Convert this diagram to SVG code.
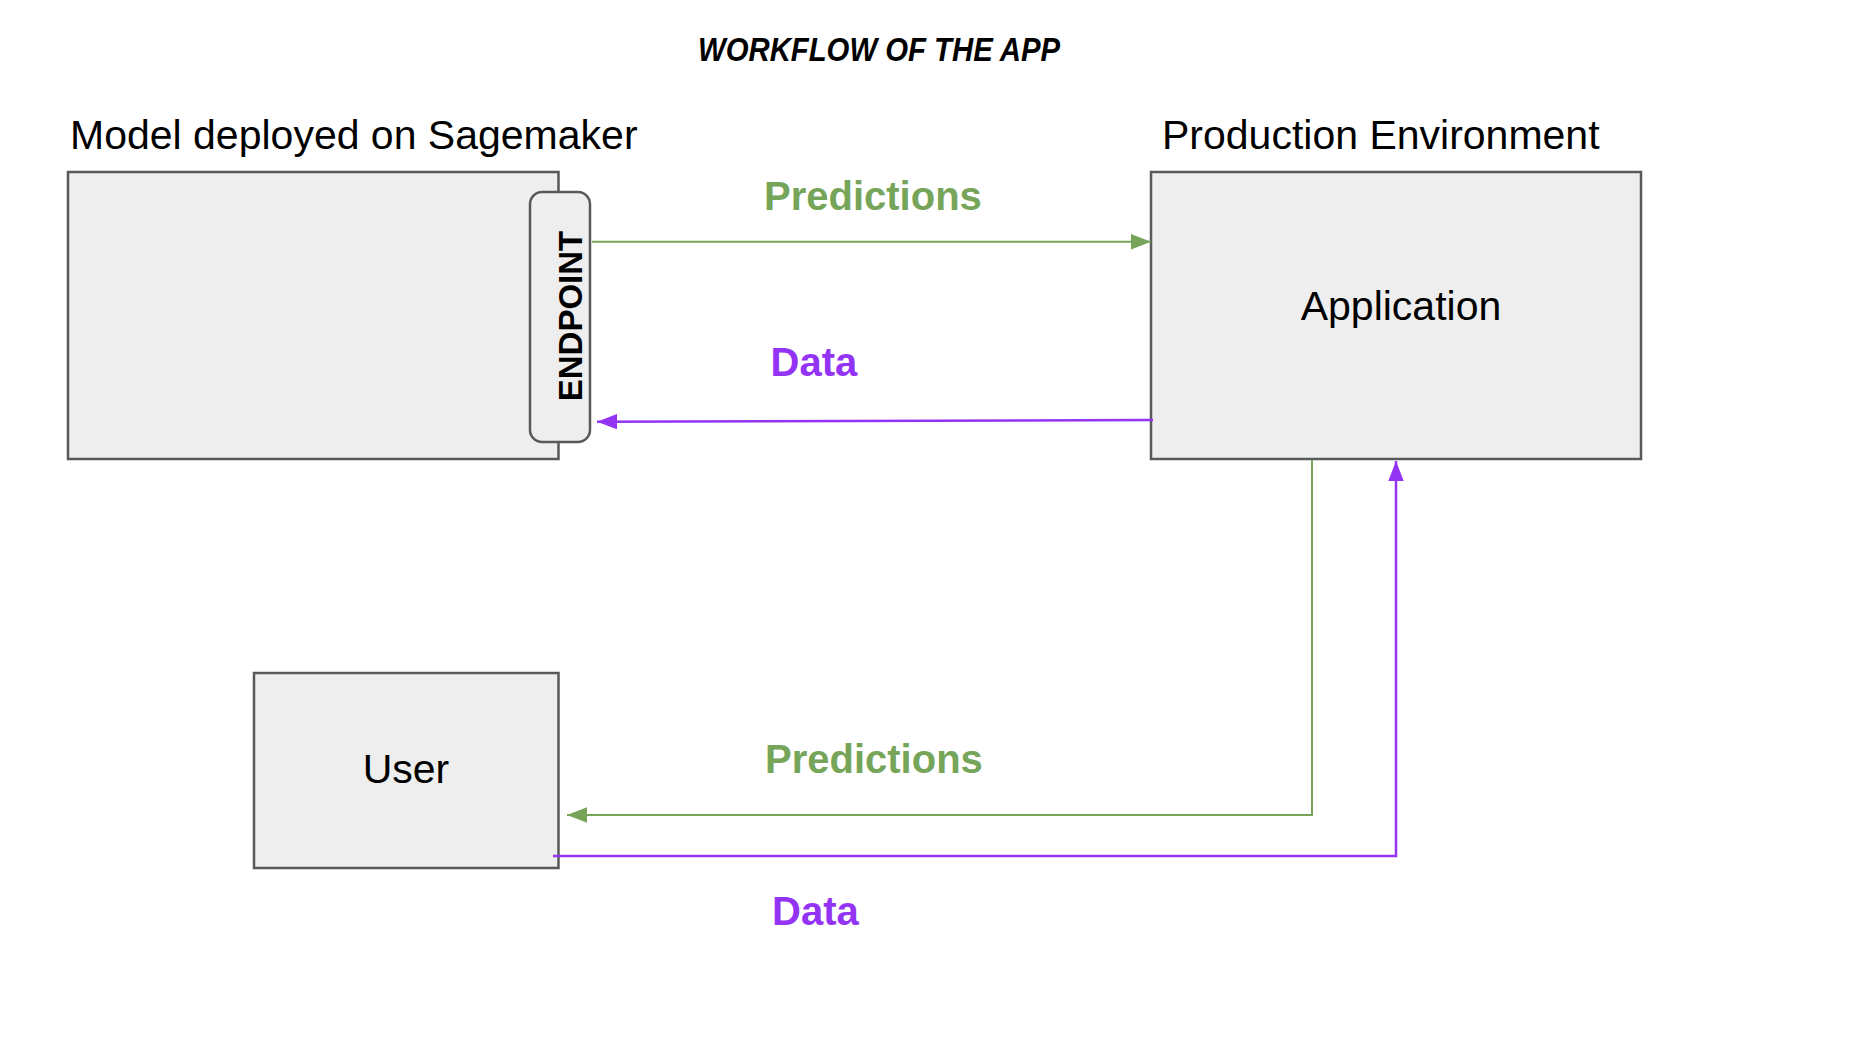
<svg xmlns="http://www.w3.org/2000/svg" width="1854" height="1050" viewBox="0 0 1854 1050">
  <style>
    .box { fill: #eeeeee; stroke: #595959; stroke-width: 2.5; }
    .t { font-family: "Liberation Sans", Arial, sans-serif; font-size: 41px; fill: #000000; }
    .lbl { font-family: "Liberation Sans", Arial, sans-serif; font-size: 40px; font-weight: bold; }
    .g { fill: #76a55a; }
    .p { fill: #9334f5; }
    .lg { fill: none; stroke: #76a55a; stroke-width: 2; }
    .lp { fill: none; stroke: #9334f5; stroke-width: 2.5; }
  </style>
  <defs>
    <marker id="ag" markerUnits="userSpaceOnUse" markerWidth="21" markerHeight="16" refX="20" refY="7.7" orient="auto">
      <path d="M0,0 L20,7.7 L0,15.4 z" fill="#76a55a"/>
    </marker>
    <marker id="ap" markerUnits="userSpaceOnUse" markerWidth="21" markerHeight="16" refX="20" refY="7.7" orient="auto">
      <path d="M0,0 L20,7.7 L0,15.4 z" fill="#9334f5"/>
    </marker>
  </defs>
  <rect width="1854" height="1050" fill="#ffffff"/>

  <text x="698" y="61" font-family="'Liberation Sans', Arial, sans-serif" font-size="34" font-style="italic" font-weight="bold" textLength="362" lengthAdjust="spacingAndGlyphs">WORKFLOW OF THE APP</text>

  <g id="sagemaker">
    <text class="t" x="70" y="148.5">Model deployed on Sagemaker</text>
    <rect class="box" x="68" y="172" width="490.5" height="287"/>
  </g>

  <g id="endpoint">
    <rect class="box" x="530" y="192" width="60" height="250" rx="12" ry="12"/>
    <text transform="translate(581.5,316) rotate(-90)" text-anchor="middle" font-family="'Liberation Sans', Arial, sans-serif" font-size="33" font-weight="bold">ENDPOINT</text>
  </g>

  <g id="production">
    <text class="t" x="1162" y="149">Production Environment</text>
    <rect class="box" x="1151" y="172" width="490" height="287"/>
    <text class="t" x="1401" y="320" text-anchor="middle">Application</text>
  </g>

  <g id="user">
    <rect class="box" x="254" y="673" width="304.5" height="195"/>
    <text class="t" x="406" y="782.5" text-anchor="middle">User</text>
  </g>

  <g id="connectors">
    <line class="lg" x1="592" y1="241.7" x2="1151" y2="241.7" marker-end="url(#ag)"/>
    <line class="lp" x1="1153" y1="420" x2="597" y2="421.7" marker-end="url(#ap)"/>
    <polyline class="lg" points="1312,460 1312,815 567,815" marker-end="url(#ag)"/>
    <polyline class="lp" points="553,856 1396,856 1396,461" marker-end="url(#ap)"/>
  </g>

  <g id="labels">
    <text class="lbl g" x="764" y="210">Predictions</text>
    <text class="lbl p" x="770.5" y="376">Data</text>
    <text class="lbl g" x="765" y="773">Predictions</text>
    <text class="lbl p" x="772" y="925">Data</text>
  </g>
</svg>
